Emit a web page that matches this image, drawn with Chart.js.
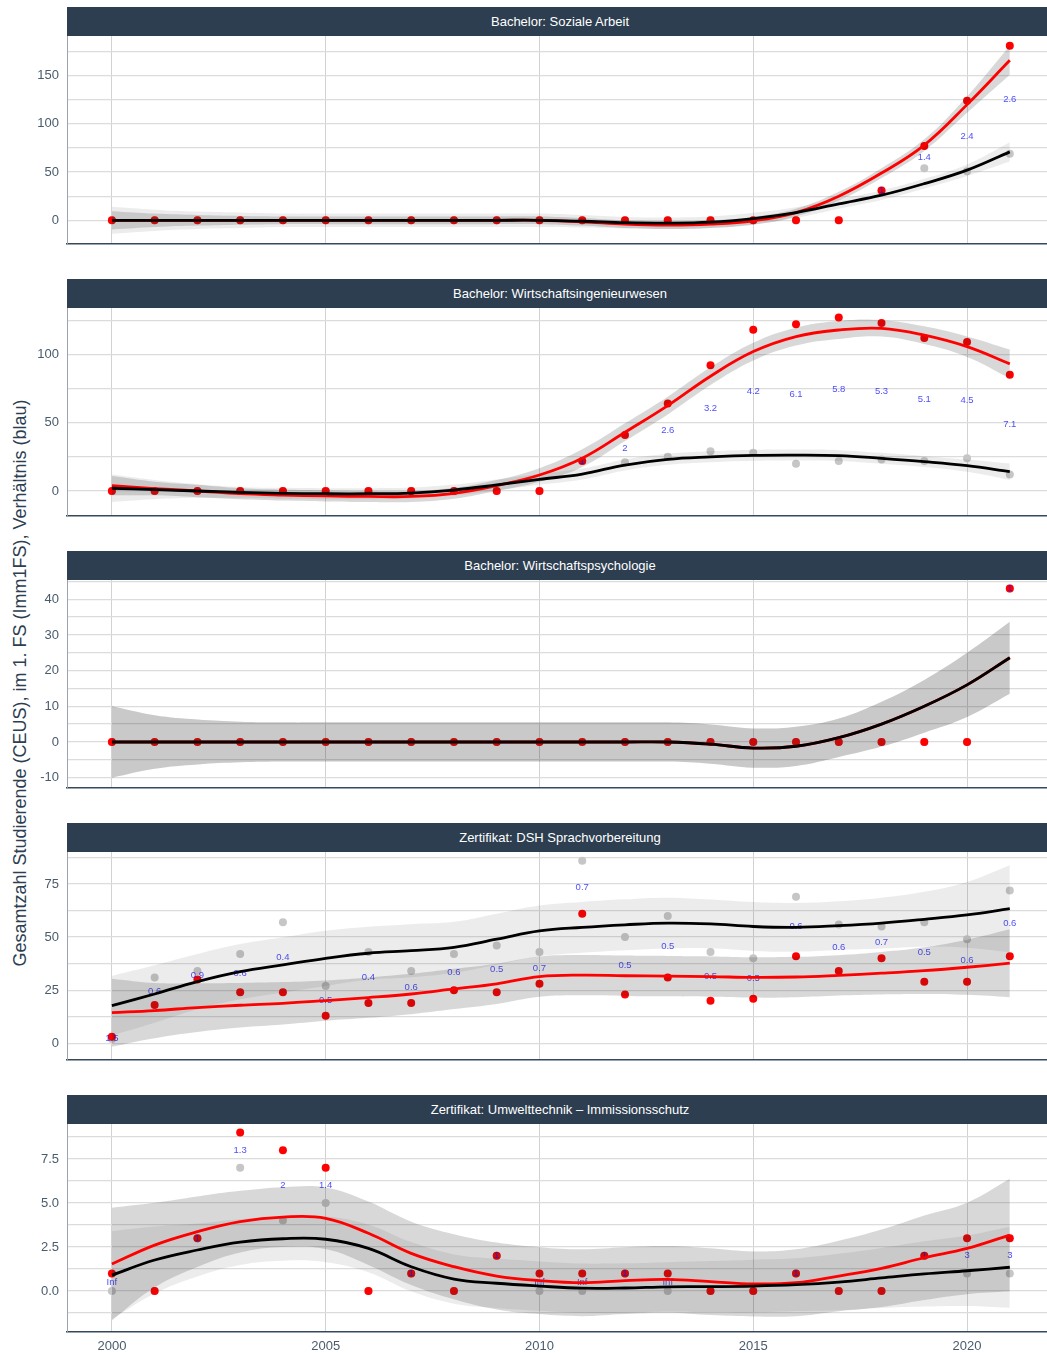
<!DOCTYPE html>
<html>
<head>
<meta charset="utf-8">
<script src="https://cdn.jsdelivr.net/npm/chart.js@4.4.1/dist/chart.umd.min.js"></script>
<style>
  html, body { margin: 0; padding: 0; background: #fff; }
  body { width: 1047px; height: 1353px; position: relative; overflow: hidden; font-family: "Liberation Sans", Arial, sans-serif; }
  .strip { position: absolute; left: 67px; width: 986px; height: 29px; background: #2c3e50; color: #fff; font-size: 13px; line-height: 29px; text-align: center; }
  canvas.panel { position: absolute; left: 0; }
  #yTitle { position: absolute; left: 20px; top: 683px; transform: translate(-50%, -50%) rotate(-90deg); white-space: nowrap; font-size: 18px; color: #2c3e50; }
</style>
</head>
<body>
<div id="yTitle">Gesamtzahl Studierende (CEUS), im 1. FS (Imm1FS), Verhältnis (blau)</div>
<script>
const years = [2000, 2001, 2002, 2003, 2004, 2005, 2006, 2007, 2008, 2009, 2010,
  2011, 2012, 2013, 2014, 2015, 2016, 2017, 2018, 2019, 2020, 2021];
const xTicks = [2000, 2005, 2010, 2015, 2020];

const panelTitles = [
  'Bachelor: Soziale Arbeit',
  'Bachelor: Wirtschaftsingenieurwesen',
  'Bachelor: Wirtschaftspsychologie',
  'Zertifikat: DSH Sprachvorbereitung',
  'Zertifikat: Umwelttechnik – Immissionsschutz'
];

// Bachelor: Soziale Arbeit
const saGrey = [0, 0, 0, 0, 0, 0, 0, 0, 0, 0, 0, 0, 0, 0, 0, 0, 0, 0, 31, 54, 51, 69];
const saRed = [0, 0, 0, 0, 0, 0, 0, 0, 0, 0, 0, 0, 0, 0, 0, 0, 0, 0, 31, 77, 124, 181];
const saRatio = [null, null, null, null, null, null, null, null, null, null, null,
  null, null, null, null, null, null, null, '1', '1.4', '2.4', '2.6'];
const saBlackFit = [0, 0, 0, 0, 0, 0, 0, 0, 0, 0, 0, -1, -2.5, -3, -2, 1.8, 8, 17, 26, 38, 52, 71];
const saBlackBand = [14, 11, 9, 8, 7, 7, 7, 7, 7, 7, 7, 6.5, 6, 6, 6, 6, 5.5, 5, 5, 5, 6, 10];
const saRedFit = [0, 0, 0, 0, 0, 0, 0, 0, 0, 0, 0, -1.5, -4, -5, -4, -0.5, 8, 25, 49, 78, 120, 166];
const saRedBand = [9.5, 7, 5.5, 4.5, 4, 4, 4, 4, 4, 4, 4, 4, 4, 4, 4, 4, 4, 4.5, 5, 6, 8.5, 15];
const saTicks = [0, 50, 100, 150];
const saMinor = [25, 75, 125, 175];

// Bachelor: Wirtschaftsingenieurwesen
const wiGrey = [0, 0, 0, 0, 0, 0, 0, 0, 0, 0, 0, 22, 21, 25, 29, 28, 20, 22, 23, 22, 24, 12];
const wiRed = [0, 0, 0, 0, 0, 0, 0, 0, 0, 0, 0, 22, 41, 64, 92, 118, 122, 127, 123, 112, 109, 85];
const wiRatio = [null, null, null, null, null, null, null, null, null, null, null,
  '1', '2', '2.6', '3.2', '4.2', '6.1', '5.8', '5.3', '5.1', '4.5', '7.1'];
const wiBlackFit = [2, 1, 0, -1, -1.7, -2, -2, -1.5, 0.7, 4.4, 8.5, 12.4, 19, 23.2, 25, 26.1, 26.3, 25.9, 23.9, 21.5, 18.5, 14.1];
const wiBlackBand = [10, 7, 5, 4, 4, 4, 4, 4, 4, 4, 4, 4, 4, 4, 4, 4, 4, 4, 4, 4, 4.5, 6];
const wiRedFit = [3.9, 1.8, 0, -2, -3, -3.6, -4, -4, -1.7, 4, 11.7, 24, 43, 62.5, 84, 102, 113, 117.8, 119, 114, 105.6, 93];
const wiRedBand = [7, 5, 4.5, 4, 4, 4, 4, 4, 4, 4, 5, 6.5, 6.5, 6.5, 6.5, 6.5, 6.5, 6.5, 6, 6.5, 7.5, 10.5];
const wiTicks = [0, 50, 100];
const wiMinor = [25, 75, 125];

// Bachelor: Wirtschaftspsychologie
const wpGrey = [0, 0, 0, 0, 0, 0, 0, 0, 0, 0, 0, 0, 0, 0, 0, 0, 0, 0, 0, 0, 0, 43];
const wpRed = [0, 0, 0, 0, 0, 0, 0, 0, 0, 0, 0, 0, 0, 0, 0, 0, 0, 0, 0, 0, 0, 43];
const wpRatio = [null, null, null, null, null, null, null, null, null, null, null,
  null, null, null, null, null, null, null, null, null, null, '1'];
const wpBlackFit = [0, 0, 0, 0, 0, 0, 0, 0, 0, 0, 0, 0, 0, 0, -0.6, -1.7, -1.2, 1.2, 5, 10, 16, 23.6];
const wpBlackBand = [10, 7.5, 6.3, 5.7, 5.5, 5.5, 5.5, 5.5, 5.5, 5.5, 5.5, 5.5, 5.5, 5.5, 5.5, 5.5, 5.5, 5.4, 6.3, 7.4, 9, 10.1];
const wpRedFit = [0, 0, 0, 0, 0, 0, 0, 0, 0, 0, 0, 0, 0, 0, -0.6, -1.7, -1.2, 1.2, 5, 10, 16, 23.6];
const wpRedBand = [10, 7.5, 6.3, 5.7, 5.5, 5.5, 5.5, 5.5, 5.5, 5.5, 5.5, 5.5, 5.5, 5.5, 5.5, 5.5, 5.5, 5.4, 6.3, 7.4, 9, 10.1];
const wpTicks = [-10, 0, 10, 20, 30, 40];
const wpMinor = [-5, 5, 15, 25, 35, 45];

// Zertifikat: DSH Sprachvorbereitung
const dshGrey = [2, 31, 34, 42, 57, 27, 43, 34, 42, 46, 43, 86, 50, 60, 43, 40, 69, 56, 55, 57, 49, 72];
const dshRed = [3, 18, 30, 24, 24, 13, 19, 19, 25, 24, 28, 61, 23, 31, 20, 21, 41, 34, 40, 29, 29, 41];
const dshRatio = ['1.5', '0.6', '0.9', '0.6', '0.4', '0.5', '0.4', '0.6', '0.6', '0.5', '0.7',
  '0.7', '0.5', '0.5', '0.5', '0.5', '0.6', '0.6', '0.7', '0.5', '0.6', '0.6'];
const dshBlackFit = [17.7, 23.2, 29, 33.7, 36.9, 40, 42.4, 43.6, 45.2, 49, 52.9, 54.6, 55.8, 56.6, 56.2, 55, 54.6, 55.4, 56.6, 58.4, 60.5, 63.4];
const dshBlackBand = [14, 13.5, 13, 13, 13, 13, 12.5, 12.5, 12, 12, 12, 12, 12, 12, 11.5, 11.5, 11.5, 11.5, 12, 13, 15.5, 20.5];
const dshRedFit = [14.4, 15.4, 16.8, 17.9, 18.8, 20.1, 21.5, 23.2, 25.6, 28, 31.4, 32.1, 31.8, 31.6, 31.4, 31, 31.2, 32, 33, 34.2, 35.8, 37.7];
const dshRedBand = [16, 13, 11.5, 10.5, 10, 9.5, 9.5, 9.5, 9.5, 9.5, 9.5, 9.5, 9.5, 9.5, 9.5, 9.5, 9.5, 9.5, 10, 11, 13, 16];
const dshTicks = [0, 25, 50, 75];
const dshMinor = [12.5, 37.5, 62.5, 87.5];

// Zertifikat: Umwelttechnik – Immissionsschutz
const utGrey = [0, 0, 3, 7, 4, 5, 0, 1, 0, 2, 0, 0, 1, 0, 0, 0, 1, 0, 0, 2, 1, 1];
const utRed = [1, 0, 3, 9, 8, 7, 0, 1, 0, 2, 1, 1, 1, 1, 0, 0, 1, 0, 0, 2, 3, 3];
const utRatio = ['Inf', null, '1', '1.3', '2', '1.4', null, '1', null, '1', 'Inf',
  'Inf', '1', 'Inf', null, null, '1', null, null, '1', '3', '3'];
const utBlackFit = [0.9, 1.76, 2.33, 2.78, 2.97, 2.94, 2.42, 1.38, 0.68, 0.44, 0.28, 0.16, 0.17, 0.24, 0.25, 0.28, 0.36, 0.51, 0.74, 0.97, 1.15, 1.35];
const utBlackBand = [2.5, 1.9, 1.5, 1.3, 1.25, 1.3, 1.35, 1.4, 1.4, 1.4, 1.4, 1.4, 1.4, 1.4, 1.45, 1.5, 1.5, 1.6, 1.7, 1.85, 2, 2.3];
const utRedFit = [1.53, 2.61, 3.37, 3.94, 4.2, 4.13, 3.28, 2.14, 1.38, 0.85, 0.59, 0.47, 0.59, 0.66, 0.53, 0.4, 0.47, 0.85, 1.29, 1.89, 2.42, 3.18];
const utRedBand = [3.2, 2.4, 2, 1.75, 1.7, 1.75, 1.8, 1.8, 1.85, 1.9, 1.9, 1.9, 1.9, 1.9, 1.9, 1.85, 1.9, 2, 2.2, 2.4, 2.6, 3.2];
const utTicks = [0, 2.5, 5, 7.5];
const utMinor = [-1.25, 1.25, 3.75, 6.25, 8.75];

const panels = [
  { grey: saGrey, red: saRed, ratio: saRatio, blackFit: saBlackFit, blackBand: saBlackBand, redFit: saRedFit, redBand: saRedBand, ticks: saTicks, minor: saMinor, min: -24.6, max: 191.2, digits: 0 },
  { grey: wiGrey, red: wiRed, ratio: wiRatio, blackFit: wiBlackFit, blackBand: wiBlackBand, redFit: wiRedFit, redBand: wiRedBand, ticks: wiTicks, minor: wiMinor, min: -18.3, max: 133.9, digits: 0 },
  { grey: wpGrey, red: wpRed, ratio: wpRatio, blackFit: wpBlackFit, blackBand: wpBlackBand, redFit: wpRedFit, redBand: wpRedBand, ticks: wpTicks, minor: wpMinor, min: -12.9, max: 45.4, digits: 0 },
  { grey: dshGrey, red: dshRed, ratio: dshRatio, blackFit: dshBlackFit, blackBand: dshBlackBand, redFit: dshRedFit, redBand: dshRedBand, ticks: dshTicks, minor: dshMinor, min: -7.9, max: 90.1, digits: 0 },
  { grey: utGrey, red: utRed, ratio: utRatio, blackFit: utBlackFit, blackBand: utBlackBand, redFit: utRedFit, redBand: utRedBand, ticks: utTicks, minor: utMinor, min: -2.33, max: 9.49, digits: 1 }
];

const FONT = '"Liberation Sans", Arial, sans-serif';
const PLOT_H = 208;
const plotTops = [36, 308, 580, 852, 1124];

// draws the blue ratio texts at the points of the label dataset
const ratioLabels = {
  id: 'ratioLabels',
  afterDatasetDraw(chart, args) {
    const ds = chart.data.datasets[args.index];
    if (!ds.ratioText) return;
    const ctx = chart.ctx;
    ctx.save();
    ctx.font = '9.5px ' + FONT;
    ctx.fillStyle = 'rgba(20,20,255,0.78)';
    ctx.textAlign = 'center';
    ctx.textBaseline = 'middle';
    args.meta.data.forEach((pt, i) => {
      const t = ds.ratioText[i];
      if (t == null || isNaN(pt.y)) return;
      ctx.fillText(t, pt.x, pt.y);
    });
    ctx.restore();
  }
};

const toPoints = (arr) => years.map((x, i) => ({ x, y: arr[i] }));
const bandEdge = (fit, half, sign) => years.map((x, i) => ({ x, y: fit[i] + sign * half[i] }));

const lineDs = (data, color, order) => ({
  data, order, borderColor: color, borderWidth: 2.8, pointRadius: 0, fill: false, tension: 0.4
});
const ribbonDs = (data, fill, color, order) => ({
  data, order, fill, backgroundColor: color, borderColor: 'rgba(0,0,0,0)', borderWidth: 1, pointRadius: 0, tension: 0.4
});
const pointDs = (data, color, order) => ({
  data, order, showLine: false, pointRadius: 4, pointBackgroundColor: color, pointBorderWidth: 0, borderColor: color
});

const makePanel = (p, idx) => {
  const last = idx === panels.length - 1;
  const top = plotTops[idx];

  const strip = document.createElement('div');
  strip.className = 'strip';
  strip.style.top = (top - 29) + 'px';
  strip.textContent = panelTitles[idx];
  document.body.appendChild(strip);

  const canvas = document.createElement('canvas');
  canvas.className = 'panel';
  const h = PLOT_H + (last ? 24 : 2);
  canvas.width = 1047;
  canvas.height = h;
  canvas.style.width = '1047px';
  canvas.style.height = h + 'px';
  canvas.style.top = top + 'px';
  document.body.appendChild(canvas);

  const labelPos = years.map((x, i) => ({ x, y: p.ratio[i] == null ? null : (p.red[i] + p.grey[i]) / 2 }));
  const labelDs = { data: labelPos, order: 6, showLine: false, pointRadius: 0, ratioText: p.ratio };

  const yVals = [...p.ticks, ...p.minor].sort((a, b) => a - b);
  const major = new Set(p.ticks);

  new Chart(canvas, {
    type: 'line',
    data: {
      datasets: [
        lineDs(toPoints(p.blackFit), '#000000', 0),
        lineDs(toPoints(p.redFit), '#ff0000', 1),
        ribbonDs(bandEdge(p.blackFit, p.blackBand, 1), '+1', 'rgba(40,40,40,0.09)', 2),
        ribbonDs(bandEdge(p.blackFit, p.blackBand, -1), false, 'rgba(0,0,0,0)', 3),
        ribbonDs(bandEdge(p.redFit, p.redBand, 1), '+1', 'rgba(40,40,40,0.18)', 4),
        ribbonDs(bandEdge(p.redFit, p.redBand, -1), false, 'rgba(0,0,0,0)', 5),
        labelDs,
        pointDs(toPoints(p.red), '#ff0000', 7),
        pointDs(toPoints(p.grey), '#c6c6c6', 8)
      ]
    },
    plugins: [ratioLabels],
    options: {
      responsive: false,
      animation: false,
      layout: { padding: 0, autoPadding: false },
      plugins: { legend: { display: false }, tooltip: { enabled: false } },
      scales: {
        x: {
          type: 'linear',
          min: 1998.95,
          max: 2021.87,
          afterBuildTicks: (s) => { s.ticks = xTicks.map(v => ({ value: v })); },
          afterFit: (s) => { s.height = last ? 24 : 2; s.paddingLeft = 0; s.paddingRight = 0; },
          grid: { color: '#d2d2d2', lineWidth: 1, drawTicks: false },
          border: { display: true, color: '#34495e', width: 1.5 },
          ticks: {
            display: last, padding: 7, autoSkip: false, maxRotation: 0,
            color: '#4a5b6c', font: { family: FONT, size: 13 },
            callback: (v) => String(v)
          }
        },
        y: {
          min: p.min,
          max: p.max,
          afterBuildTicks: (s) => { s.ticks = yVals.map(v => ({ value: v })); },
          afterFit: (s) => { s.width = 67; s.paddingTop = 0; s.paddingBottom = 0; },
          grid: { color: '#dcdcdc', lineWidth: 1.3, drawTicks: false },
          border: { display: true, color: '#9aa4ae', width: 1 },
          ticks: {
            padding: 8, autoSkip: false,
            color: '#4a5b6c', font: { family: FONT, size: 13 },
            callback: (v) => major.has(v) ? v.toFixed(p.digits) : ''
          }
        }
      }
    }
  });
};

panels.forEach(makePanel);
</script>
</body>
</html>
